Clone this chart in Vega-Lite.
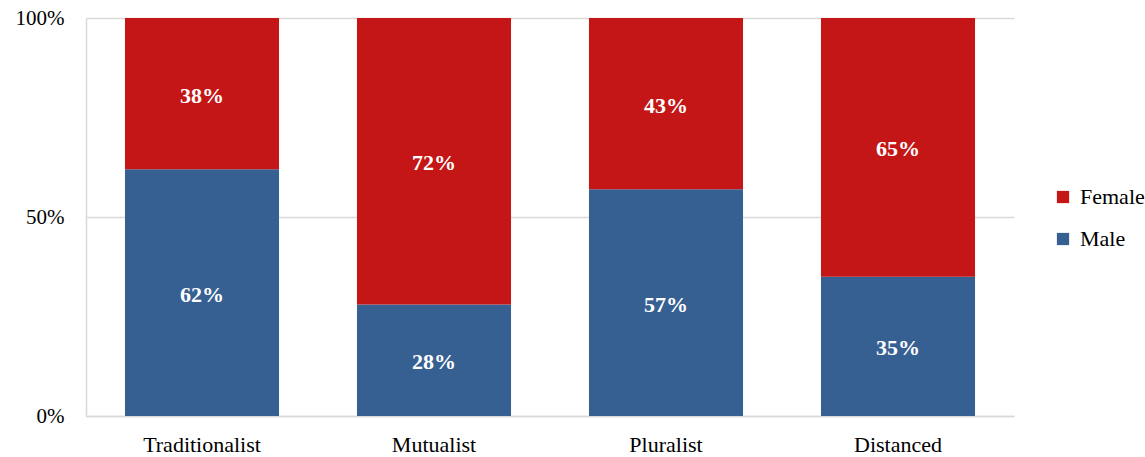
{
  "$schema": "https://vega.github.io/schema/vega-lite/v6.json",
  "width": 928,
  "height": 398,
  "autosize": {"type": "none"},
  "padding": {"left": 86, "top": 18, "right": 131, "bottom": 41},
  "background": "white",
  "config": {
    "font": "'Times New Roman', 'Liberation Serif', serif",
    "view": {"stroke": null}
  },
  "data": {
    "values": [
      {"group": "Traditionalist", "gender": "Male", "share": 0.62},
      {"group": "Traditionalist", "gender": "Female", "share": 0.38},
      {"group": "Mutualist", "gender": "Male", "share": 0.28},
      {"group": "Mutualist", "gender": "Female", "share": 0.72},
      {"group": "Pluralist", "gender": "Male", "share": 0.57},
      {"group": "Pluralist", "gender": "Female", "share": 0.43},
      {"group": "Distanced", "gender": "Male", "share": 0.35},
      {"group": "Distanced", "gender": "Female", "share": 0.65}
    ]
  },
  "transform": [
    {"calculate": "datum.gender === 'Male' ? 0 : 1", "as": "stackOrder"},
    {"stack": "share", "groupby": ["group"], "sort": [{"field": "stackOrder", "order": "ascending"}], "as": ["s0", "s1"]},
    {"calculate": "(datum.s0 + datum.s1) / 2", "as": "mid"}
  ],
  "layer": [
    {
      "mark": {"type": "bar"},
      "encoding": {
        "x": {
          "field": "group", "type": "nominal",
          "sort": ["Traditionalist", "Mutualist", "Pluralist", "Distanced"],
          "scale": {"paddingInner": 0.336, "paddingOuter": 0.168},
          "axis": {
            "title": null, "labelAngle": 0, "labelFontSize": 22, "labelColor": "#000000",
            "labelPadding": 18, "ticks": false, "domain": true, "domainColor": "#d9d9d9", "domainWidth": 1.5,
            "labelFont": "'Times New Roman', 'Liberation Serif', serif"
          }
        },
        "y": {
          "field": "s0", "type": "quantitative",
          "scale": {"domain": [0, 1], "nice": false},
          "axis": {
            "title": null, "values": [0, 0.5, 1], "format": ".0%", "labelFontSize": 21,
            "labelColor": "#000000", "labelPadding": 22, "ticks": false, "domain": true,
            "domainColor": "#d9d9d9", "domainWidth": 1.5, "grid": true, "gridColor": "#d9d9d9",
            "gridWidth": 1.5, "labelFont": "'Times New Roman', 'Liberation Serif', serif"
          }
        },
        "y2": {"field": "s1"},
        "color": {
          "field": "gender", "type": "nominal",
          "scale": {"domain": ["Female", "Male"], "range": ["#C41616", "#376092"]},
          "legend": {
            "title": null, "orient": "none", "legendX": 966, "legendY": 168,
            "symbolType": "square", "symbolSize": 150, "symbolStrokeWidth": 0,
            "labelFontSize": 22, "labelColor": "#000000", "labelFont": "'Times New Roman', 'Liberation Serif', serif",
            "rowPadding": 20, "labelOffset": 6
          }
        }
      }
    },
    {
      "mark": {"type": "text", "color": "white", "fontWeight": "bold", "fontSize": 22, "baseline": "middle", "dy": 2, "font": "'Times New Roman', 'Liberation Serif', serif"},
      "encoding": {
        "x": {"field": "group", "type": "nominal", "sort": ["Traditionalist", "Mutualist", "Pluralist", "Distanced"]},
        "y": {"field": "mid", "type": "quantitative"},
        "text": {"field": "share", "type": "quantitative", "format": ".0%"}
      }
    }
  ]
}
